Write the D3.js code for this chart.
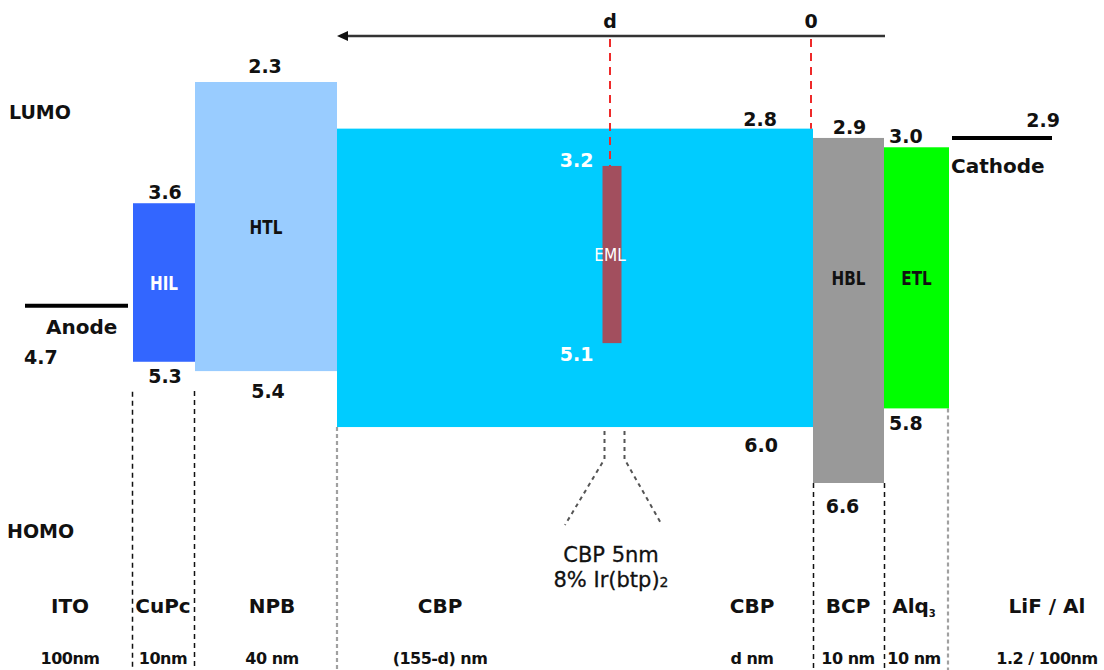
<!DOCTYPE html>
<html>
<head>
<meta charset="utf-8">
<script src="https://cdn.jsdelivr.net/npm/d3@7/dist/d3.min.js"></script>
<style>
  html, body { margin: 0; padding: 0; background: #ffffff; }
  svg { display: block; }
  text { font-family: "DejaVu Sans", sans-serif; fill: #111; }
</style>
</head>
<body>
<svg id="chart" width="1104" height="670"></svg>
<script>
// ---------------- DATA ----------------
const layerNames   = ["HIL", "HTL", "CBP", "HBL", "ETL"];
const layerLabels  = ["HIL", "HTL", "",    "HBL", "ETL"];
const layerLUMO    = [3.6, 2.3, 2.8, 2.9, 3.0];
const layerHOMO    = [5.3, 5.4, 6.0, 6.6, 5.8];
const emlLUMO      = 3.2;
const emlHOMO      = 5.1;
const anodeLevel   = 4.7;
const cathodeLevel = 2.9;
const materials    = ["ITO", "CuPc", "NPB", "CBP", "CBP", "BCP", "Alq", "LiF / Al"];
const materialSubs = ["", "", "", "", "", "", "3", ""];
const thicknesses  = ["100nm", "10nm", "40 nm", "(155-d) nm", "d nm", "10 nm", "10 nm", "1.2 / 100nm"];
const distanceTicks = ["d", "0"];
const calloutLines = ["CBP 5nm", "8% Ir(btp)"];

// ---------------- LAYOUT / STYLE ----------------
const W = 1104, H = 670;
const colEdges   = [0, 133, 195, 337, 813, 884, 949, 1104];   // column boundaries (px)
const layerCol   = [1, 2, 3, 4, 5];                          // column of each layer
const layerFill  = ["#3366ff", "#99ccff", "#00ccff", "#999999", "#00ff00"];
const labelFill  = ["#ffffff", "#111111", "#111111", "#111111", "#111111"];
const materialX  = [70, 163, 272, 440, 752, 848, 914, 1047];
const emlCenterX = 612, emlWidth = 19;
const svg = d3.select("#chart");

// energy scale (eV, drawn downward)
const y = d3.scaleLinear().domain([2.3, 6.6]).range([82, 483]);

const g = svg.append("g");

// ---------- dashed separators ----------
const sepEdges = [1, 2, 3, 4, 5, 6];
const sepStart = [y(5.3) + 30, y(5.4) + 20, y(6.0), y(6.6), y(6.6), y(5.8)];
const sepGrey  = [false, false, true, false, false, true];
const sepX     = [132.5, 194.5, 337, 813.5, 884.5, 948];
g.selectAll("line.sep").data(sepEdges).join("line")
  .attr("class", "sep")
  .attr("x1", (d, i) => sepX[i]).attr("x2", (d, i) => sepX[i])
  .attr("y1", (d, i) => sepStart[i]).attr("y2", H)
  .attr("stroke", (d, i) => sepGrey[i] ? "#a0a0a0" : "#111")
  .attr("stroke-width", (d, i) => sepGrey[i] ? 2.2 : 1.5)
  .attr("stroke-dasharray", (d, i) => sepGrey[i] ? "4,3" : "5,4");

// ---------- layer bars ----------
const layers = layerNames.map((n, i) => ({
  name: n, label: layerLabels[i], lumo: layerLUMO[i], homo: layerHOMO[i],
  x0: colEdges[layerCol[i]], x1: colEdges[layerCol[i] + 1], fill: layerFill[i], lf: labelFill[i]
}));

g.selectAll("rect.layer").data(layers).join("rect")
  .attr("class", "layer")
  .attr("x", d => d.x0).attr("width", d => d.x1 - d.x0)
  .attr("y", d => y(d.lumo)).attr("height", d => y(d.homo) - y(d.lumo))
  .attr("fill", d => d.fill);

// layer inner labels (condensed bold)
const etl = layers[4];
const etlMid = (y(etl.lumo) + y(etl.homo)) / 2;
layers.forEach((d, i) => {
  if (!d.label) return;
  const cx = (d.x0 + d.x1) / 2;
  const cy = d.name === "HBL" ? etlMid : (y(d.lumo) + y(d.homo)) / 2;
  g.append("text")
    .attr("transform", `translate(${cx},${cy + 7}) scale(0.76,1)`)
    .attr("text-anchor", "middle")
    .attr("font-size", 20).attr("font-weight", "bold")
    .style("fill", d.lf)
    .text(d.label);
});

// ---------- EML ----------
const emlX0 = emlCenterX - emlWidth / 2;
g.append("rect")
  .attr("x", emlX0).attr("width", emlWidth)
  .attr("y", y(emlLUMO)).attr("height", y(emlHOMO) - y(emlLUMO))
  .attr("fill", "#a24f5e");
g.append("text")
  .attr("transform", `translate(${emlCenterX - 2},${(y(emlLUMO) + y(emlHOMO)) / 2 + 6}) scale(0.85,1)`)
  .attr("text-anchor", "middle").attr("font-size", 18)
  .style("fill", "#fff").text("EML");
g.append("text")
  .attr("x", emlX0 - 9).attr("y", y(emlLUMO) + 1)
  .attr("text-anchor", "end").attr("font-size", 19).attr("font-weight", "bold")
  .style("fill", "#fff").text(d3.format(".1f")(emlLUMO));
g.append("text")
  .attr("x", emlX0 - 9).attr("y", y(emlHOMO) + 18)
  .attr("text-anchor", "end").attr("font-size", 19).attr("font-weight", "bold")
  .style("fill", "#fff").text(d3.format(".1f")(emlHOMO));

// ---------- energy value labels ----------
const fmt = d3.format(".1f");
const lumoAnchor = ["middle", "middle", "end", "middle", "start"];
const lumoX = [l => (l.x0 + l.x1) / 2 + 1, l => (l.x0 + l.x1) / 2 - 1, l => l.x1 - 36, l => (l.x0 + l.x1) / 2 + 1, l => l.x0 + 5];
const homoX = [l => (l.x0 + l.x1) / 2 + 1, l => (l.x0 + l.x1) / 2 + 2, l => l.x1 - 35, l => (l.x0 + l.x1) / 2 - 6, l => l.x0 + 5];
const lumoDY = [-4, -9, -3, -4, -4];
const homoDY = [21, 27, 25, 30, 22];
layers.forEach((l, i) => {
  g.append("text").attr("x", lumoX[i](l)).attr("y", y(l.lumo) + lumoDY[i])
    .attr("text-anchor", lumoAnchor[i]).attr("font-size", 19).attr("font-weight", "bold")
    .text(fmt(l.lumo));
  g.append("text").attr("x", homoX[i](l)).attr("y", y(l.homo) + homoDY[i])
    .attr("text-anchor", lumoAnchor[i]).attr("font-size", 19).attr("font-weight", "bold")
    .text(fmt(l.homo));
});

// ---------- anode / cathode ----------
g.append("line").attr("x1", 25).attr("x2", 128)
  .attr("y1", y(anodeLevel)).attr("y2", y(anodeLevel))
  .attr("stroke", "#000").attr("stroke-width", 4);
g.append("text").attr("x", 46).attr("y", y(anodeLevel) + 28)
  .attr("font-size", 20).attr("font-weight", "bold").text("Anode");
g.append("text").attr("x", 24).attr("y", y(anodeLevel) + 58)
  .attr("font-size", 19).attr("font-weight", "bold").text(fmt(anodeLevel));

g.append("line").attr("x1", 952).attr("x2", 1052)
  .attr("y1", y(cathodeLevel)).attr("y2", y(cathodeLevel))
  .attr("stroke", "#000").attr("stroke-width", 4);
g.append("text").attr("x", 1060).attr("y", y(cathodeLevel) - 11)
  .attr("text-anchor", "end").attr("font-size", 19).attr("font-weight", "bold").text(fmt(cathodeLevel));
g.append("text").attr("x", 951).attr("y", y(cathodeLevel) + 35)
  .attr("font-size", 20).attr("font-weight", "bold").text("Cathode");

// ---------- LUMO / HOMO row labels ----------
g.append("text").attr("x", 9).attr("y", 119).attr("font-size", 19).attr("font-weight", "bold").text("LUMO");
g.append("text").attr("x", 7).attr("y", 538).attr("font-size", 19).attr("font-weight", "bold").text("HOMO");

// ---------- distance arrow ----------
const arrowY = 36;
const dPos = d3.scaleOrdinal().domain(distanceTicks).range([emlCenterX - 2, 811]);
g.append("line").attr("x1", 885).attr("x2", 344).attr("y1", arrowY).attr("y2", arrowY)
  .attr("stroke", "#333").attr("stroke-width", 2.5);
g.append("path")
  .attr("d", d3.line()([[337, arrowY], [348, arrowY - 5], [348, arrowY + 5]]) + "Z")
  .attr("fill", "#111");
distanceTicks.forEach(t => {
  g.append("text").attr("x", dPos(t)).attr("y", 28).attr("text-anchor", "middle")
    .attr("font-size", 19).attr("font-weight", "bold").text(t);
});
// red dashed guides
g.append("line").attr("x1", dPos("d")).attr("x2", dPos("d"))
  .attr("y1", arrowY + 3).attr("y2", y(emlLUMO))
  .attr("stroke", "#ee2a2a").attr("stroke-width", 2).attr("stroke-dasharray", "8,6");
g.append("line").attr("x1", dPos("0")).attr("x2", dPos("0"))
  .attr("y1", arrowY + 3).attr("y2", y(layerLUMO[2]))
  .attr("stroke", "#ee2a2a").attr("stroke-width", 2).attr("stroke-dasharray", "8,6");

// ---------- EML callout ----------
const cbpBottom = y(layerHOMO[2]);
const calloutPath = [
  [[emlX0 + 2, cbpBottom + 4], [emlX0 + 2, cbpBottom + 32], [565, 525]],
  [[emlX0 + emlWidth + 3, cbpBottom + 4], [emlX0 + emlWidth + 3, cbpBottom + 32], [662, 525]]
];
calloutPath.forEach(p => {
  g.append("path").attr("d", d3.line()(p)).attr("fill", "none")
    .attr("stroke", "#555").attr("stroke-width", 2).attr("stroke-dasharray", "4,4");
});
g.append("text").attr("x", 611).attr("y", 562).attr("text-anchor", "middle")
  .attr("font-size", 21).style("stroke", "#111").style("stroke-width", 0.3).text(calloutLines[0]);
const t2 = g.append("text").attr("x", 611).attr("y", 587).attr("text-anchor", "middle")
  .attr("font-size", 21).style("stroke", "#111").style("stroke-width", 0.3);
t2.append("tspan").text(calloutLines[1]);
t2.append("tspan").attr("font-size", 14).text("2");

// ---------- material / thickness row ----------
materials.forEach((m, i) => {
  const t = g.append("text").attr("x", materialX[i]).attr("y", 613)
    .attr("text-anchor", "middle").attr("font-size", 20).attr("font-weight", "bold");
  t.append("tspan").text(m);
  if (materialSubs[i]) t.append("tspan").attr("font-size", 10).attr("dy", 4).text(materialSubs[i]);
  g.append("text").attr("x", materialX[i]).attr("y", 664)
    .attr("text-anchor", "middle").attr("font-size", 16).attr("font-weight", "bold")
    .attr("letter-spacing", -0.5).text(thicknesses[i]);
});
</script>
</body>
</html>
